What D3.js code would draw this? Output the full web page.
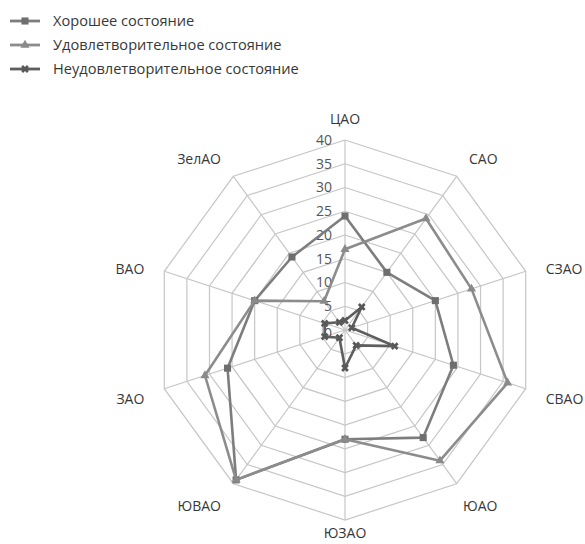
<!DOCTYPE html>
<html>
<head>
<meta charset="utf-8">
<script src="https://cdn.jsdelivr.net/npm/d3@7/dist/d3.min.js"></script>
<style>
  html, body { margin: 0; padding: 0; background: #fff; }
  svg { display: block; font-family: "Open Sans", "Noto Sans", sans-serif; }
</style>
</head>
<body>
<svg id="chart" width="585" height="544"></svg>
<script>
// Districts, clockwise from the top
const districts = ["ЦАО", "САО", "СЗАО", "СВАО", "ЮАО", "ЮЗАО", "ЮВАО", "ЗАО", "ВАО", "ЗелАО"];
const seriesNames = ["Хорошее состояние", "Удовлетворительное состояние", "Неудовлетворительное состояние"];
const goodValues = [24, 15, 20, 24, 28, 23, 39, 26, 20, 19];
const fairValues = [17, 29, 28, 36, 34, 23, 39, 31, 20, 7.5];
const poorValues = [2, 6, 1.5, 11, 4, 8, 2, 4.5, 4.5, 2];
const tickValues = [0, 5, 10, 15, 20, 25, 30, 35, 40];

const seriesValues = [goodValues, fairValues, poorValues];
const seriesColors = ["#7d7d7d", "#8c8c8c", "#5e5e5e"];
const markerColors = ["#6e6e6e", "#8a8a8a", "#585858"];
const markerTypes = [d3.symbolSquare, d3.symbolTriangle, d3.symbolCross];
const markerSizes = [50, 36, 38];

const svg = d3.select("#chart");
const cx = 345, cy = 330, R = 190;

const r = d3.scaleLinear().domain([0, 40]).range([0, R]);
const angle = d3.scaleLinear().domain([0, districts.length]).range([0, 2 * Math.PI]);

const px = (i, v) => cx + r(v) * Math.sin(angle(i));
const py = (i, v) => cy - r(v) * Math.cos(angle(i));

const g = svg.append("g");

// Grid rings (decagons)
const ringLine = d3.line();
tickValues.filter(t => t > 0).forEach(t => {
  const pts = districts.map((d, i) => [px(i, t), py(i, t)]);
  pts.push(pts[0]);
  g.append("path")
    .attr("d", ringLine(pts))
    .attr("fill", "none")
    .attr("stroke", "#c6c6c6")
    .attr("stroke-width", 1.2);
});

// Spokes
districts.forEach((d, i) => {
  g.append("line")
    .attr("x1", cx).attr("y1", cy)
    .attr("x2", px(i, 40)).attr("y2", py(i, 40))
    .attr("stroke", "#c6c6c6")
    .attr("stroke-width", 1.2);
});

// Radial tick labels along the first spoke
g.selectAll(".tick")
  .data(tickValues)
  .enter().append("text")
  .attr("x", cx - 13)
  .attr("y", d => cy - r(d) + (d === 0 ? 3 : 0))
  .attr("dy", "0.35em")
  .attr("text-anchor", "end")
  .attr("font-size", 14)
  .attr("fill", "#555555")
  .text(d => d);

// District labels
districts.forEach((d, i) => {
  const a = angle(i);
  const s = Math.sin(a), c = Math.cos(a);
  const L = R + 21;
  let anchor = "middle";
  if (s > 0.1) anchor = "start";
  else if (s < -0.1) anchor = "end";
  let y = cy - L * c;
  if (Math.abs(c) < 0.5) y += 4;
  if (c < -0.9) y -= 8;
  else if (c < -0.5) y += 5;
  g.append("text")
    .attr("x", cx + L * s - (c < -0.5 && s > 0.1 ? 6 : 0))
    .attr("y", y)
    .attr("dy", "0.35em")
    .attr("text-anchor", anchor)
    .attr("font-size", 14)
    .attr("fill", "#383838")
    .text(d);
});

// Series polygons with markers
const closedLine = d3.line().curve(d3.curveLinearClosed);
seriesValues.forEach((vals, k) => {
  const pts = vals.map((v, i) => [px(i, v), py(i, v)]);
  g.append("path")
    .attr("d", closedLine(pts))
    .attr("fill", "none")
    .attr("stroke", seriesColors[k])
    .attr("stroke-width", 2.6)
    .attr("stroke-linejoin", "round");
  g.selectAll(null)
    .data(pts)
    .enter().append("path")
    .attr("transform", p => `translate(${p[0]},${p[1]})` + (k === 2 ? " rotate(45)" : ""))
    .attr("d", d3.symbol().type(markerTypes[k]).size(markerSizes[k]))
    .attr("fill", markerColors[k]);
});

// Legend
const legend = svg.append("g");
seriesNames.forEach((name, k) => {
  const y = 21 + k * 24;
  legend.append("line")
    .attr("x1", 10).attr("x2", 40)
    .attr("y1", y).attr("y2", y)
    .attr("stroke", seriesColors[k])
    .attr("stroke-width", 2.8);
  legend.append("path")
    .attr("transform", `translate(25,${y})` + (k === 2 ? " rotate(45)" : ""))
    .attr("d", d3.symbol().type(markerTypes[k]).size(markerSizes[k]))
    .attr("fill", markerColors[k]);
  legend.append("text")
    .attr("x", 53)
    .attr("y", y)
    .attr("dy", "0.35em")
    .attr("font-size", 14.6)
    .attr("fill", "#383838")
    .text(name);
});
</script>
</body>
</html>
